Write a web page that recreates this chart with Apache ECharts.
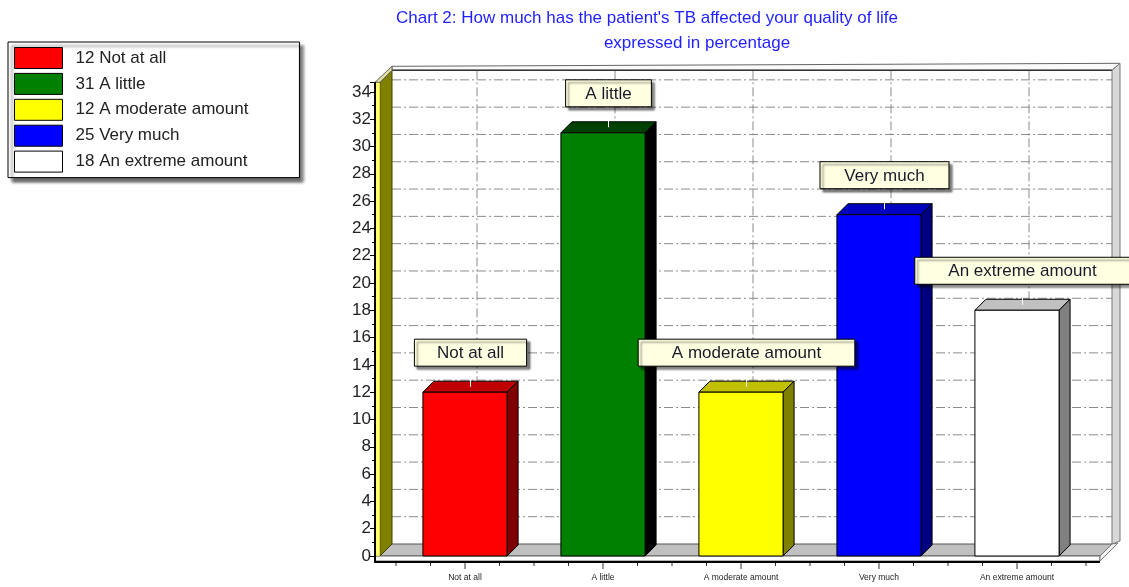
<!DOCTYPE html>
<html><head><meta charset="utf-8">
<script src="https://cdn.jsdelivr.net/npm/echarts@6/dist/echarts.min.js"></script>
<style>html,body{margin:0;padding:0;background:#fff}#c{width:1129px;height:587px}</style>
</head><body><div id="c"></div>
<script>
const categories = ['Not at all', 'A little', 'A moderate amount', 'Very much', 'An extreme amount'];
const values = [12, 31, 12, 25, 18];
const frontColors = ['#ff0000', '#008000', '#ffff00', '#0000ff', '#ffffff'];
const topColors = ['#c00000', '#004000', '#c0c000', '#0000c0', '#c0c0c0'];
const sideColors = ['#800000', '#000000', '#808000', '#000080', '#808080'];
const titleLines = ["Chart 2: How much has the patient's TB affected your quality of life", 'expressed in percentage'];
const yMin = 0, yMax = 34.7, yInterval = 2;
const legendNames = values.map((v, i) => v + ' ' + categories[i]);

const FONT = '"Liberation Sans", Arial, sans-serif';
const D = 12, BD = 11;
const measureCtx = document.createElement('canvas').getContext('2d');
measureCtx.font = '17px "Liberation Sans"';

const chart = echarts.init(document.getElementById('c'));

function line(x1, y1, x2, y2, style) {
  return { type: 'line', shape: { x1, y1, x2, y2 }, style: Object.assign({ stroke: '#000', lineWidth: 1 }, style) };
}
function poly(points, style) {
  return { type: 'polygon', shape: { points }, style: Object.assign({ stroke: '#000', lineWidth: 1 }, style) };
}

function frameItem(params, api) {
  const cs = params.coordSys;
  const y0 = api.coord([0, 0])[1];
  const yTop = cs.y;
  const axX = cs.x - 21;
  const xL = cs.x - 16, xR = cs.x + cs.width + 14;
  const bl = xL + D, br = xR + D, bt = yTop - D, bb = y0 - D;
  const dash = { stroke: '#8a8a8a', lineWidth: 1, lineDash: [9, 3, 2, 3] };
  const ch = [];
  ch.push({ type: 'rect', shape: { x: bl, y: bt, width: br - bl, height: bb - bt }, style: { fill: '#fff' } });
  for (let v = yMin + yInterval; v <= yMax; v += yInterval) {
    const y = api.coord([0, v])[1] - D;
    ch.push(line(bl, y, br, y, dash));
  }
  for (let i = 0; i < categories.length; i++) {
    const x = api.coord([i, 0])[0] + D;
    ch.push(line(x, bt, x, bb, dash));
  }
  ch.push(poly([[bl, bt - 4], [br + 8, bt - 7], [br + 8, bt - 7], [br, bt], [bl, bt]], { fill: '#fafafa', stroke: '#666' }));
  ch.push(line(bl, bt, br, bt, { stroke: '#333', lineWidth: 1.5 }));
  ch.push(poly([[br, bt], [br + 8, bt - 7], [br + 8, bb - 3], [br, bb]], { fill: '#d8d8d8', stroke: '#777' }));
  ch.push(poly([[xL, y0], [xR, y0], [br, bb], [bl, bb]], { fill: '#c0c0c0', stroke: '#555' }));
  ch.push({ type: 'rect', shape: { x: axX, y: y0, width: xR - axX, height: 5 }, style: { fill: '#fff', stroke: '#666', lineWidth: 1 } });
  ch.push(poly([[xR, y0], [br, bb], [br + 6, bb - 1], [xR, y0 + 5]], { fill: '#f2f2f2', stroke: '#777' }));
  ch.push(poly([[xL, yTop], [bl, bt], [bl, bb], [xL, y0]], { fill: '#808000', stroke: '#404000' }));
  ch.push({ type: 'rect', shape: { x: axX, y: yTop, width: xL - axX, height: y0 - yTop }, style: { fill: '#ffff70', stroke: '#808000', lineWidth: 0.5 } });
  ch.push(poly([[axX, yTop], [xL, yTop], [bl, bt], [bl, bt - 4]], { fill: '#e0e0a0', stroke: '#666' }));
  ch.push(line(axX, yTop, axX, y0 + 6, { stroke: '#000', lineWidth: 2 }));
  ch.push(line(axX - 1, y0 + 6, xR, y0 + 6, { stroke: '#000', lineWidth: 2 }));
  const n = categories.length * 4;
  for (let k = 0; k <= n; k++) {
    const x = cs.x + k * cs.width / n;
    const long = (k % 4) === 2;
    ch.push(line(x, y0 + 7, x, y0 + (long ? 13 : 10), { stroke: '#333' }));
  }
  return { type: 'group', children: ch };
}

function barItem(idx) {
  return function (params, api) {
    const c = api.coord([api.value(0), api.value(1)]);
    const b = api.coord([api.value(0), 0]);
    const w = api.size([1, 0])[0] * 0.61;
    const x0 = c[0] - w / 2, x1 = c[0] + w / 2;
    return {
      type: 'group', children: [
        poly([[x0, c[1]], [x1, c[1]], [x1 + BD, c[1] - BD], [x0 + BD, c[1] - BD]], { fill: topColors[idx], stroke: '#000' }),
        poly([[x1, c[1]], [x1 + BD, c[1] - BD], [x1 + BD, b[1] - BD], [x1, b[1]]], { fill: sideColors[idx], stroke: '#000' }),
        { type: 'rect', shape: { x: x0, y: c[1], width: w, height: b[1] - c[1] }, style: { fill: frontColors[idx], stroke: '#000', lineWidth: 1 } }
      ]
    };
  };
}

function calloutItem(params, api) {
  const i = api.value(0);
  const c = api.coord([i, api.value(1)]);
  const text = categories[i];
  const tw = measureCtx.measureText(text).width;
  const bw = 1.27 * tw + 27, bh = 27;
  const cx = c[0] + BD / 2;
  const faceY = c[1] - BD / 2;
  const bottom = c[1] - BD - 15;
  return {
    type: 'group', children: [
      line(cx, bottom, cx, faceY, { stroke: '#ffffff', lineWidth: 1 }),
      { type: 'rect', shape: { x: cx - bw / 2, y: bottom - bh, width: bw, height: bh },
        style: { fill: '#ffffe1', stroke: '#000', lineWidth: 1, shadowColor: 'rgba(0,0,0,0.5)', shadowOffsetX: 3, shadowOffsetY: 3, shadowBlur: 2 } },
      { type: 'text', x: cx, y: bottom - bh / 2 + 1,
        style: { text, fontSize: 17, fontFamily: FONT, fill: '#1a1a2a', align: 'center', verticalAlign: 'middle' } }
    ]
  };
}

const series = [{
  type: 'custom', name: 'frame', coordinateSystem: 'cartesian2d', data: [[0, 0]],
  renderItem: frameItem, z: 1, silent: true
}];
values.forEach((v, i) => {
  series.push({
    type: 'custom', name: legendNames[i], coordinateSystem: 'cartesian2d',
    data: [[i, v]], itemStyle: { color: frontColors[i] }, renderItem: barItem(i), z: 2
  });
});
series.push({
  type: 'custom', name: 'callouts', coordinateSystem: 'cartesian2d',
  data: values.map((v, i) => [i, v]), renderItem: calloutItem, z: 3, silent: true
});

chart.setOption({
  animation: false,
  backgroundColor: '#fff',
  textStyle: { fontFamily: FONT },
  graphic: [
    { type: 'text', x: 647, y: 18, style: { text: titleLines[0], fontSize: 17, fontFamily: FONT, fill: '#1f1fff', align: 'center', verticalAlign: 'middle' } },
    { type: 'text', x: 697, y: 43, style: { text: titleLines[1], fontSize: 17, fontFamily: FONT, fill: '#1f1fff', align: 'center', verticalAlign: 'middle' } }
  ],
  legend: {
    data: legendNames, orient: 'vertical', left: 8, top: 42, padding: [5, 8, 5, 6],
    itemWidth: 48, itemHeight: 21, itemGap: 3.9, icon: 'rect',
    itemStyle: { borderColor: '#000', borderWidth: 1 },
    textStyle: { fontSize: 17, lineHeight: 21, color: '#222', fontFamily: FONT, padding: [0, 43, 0, 8] },
    backgroundColor: '#fff', borderColor: '#000', borderWidth: 1,
    shadowColor: 'rgba(0,0,0,0.6)', shadowBlur: 3, shadowOffsetX: 4, shadowOffsetY: 4,
    selectedMode: false
  },
  grid: { left: 396, right: 43, top: 82.3, bottom: 31 },
  xAxis: {
    type: 'category', data: categories,
    axisLine: { show: false }, axisTick: { show: false }, splitLine: { show: false },
    axisLabel: { fontSize: 8.5, color: '#222', margin: 17, interval: 0 }
  },
  yAxis: {
    type: 'value', min: yMin, max: yMax, interval: yInterval, offset: 21,
    axisLine: { show: false }, splitLine: { show: false },
    axisTick: { show: true, length: 5, lineStyle: { color: '#000' } },
    minorTick: { show: true, splitNumber: 2, length: 3, lineStyle: { color: '#000' } },
    axisLabel: { fontSize: 17, color: '#222', margin: 4, formatter: v => (Number.isInteger(v) ? String(v) : '') }
  },
  series
});
</script></body></html>
